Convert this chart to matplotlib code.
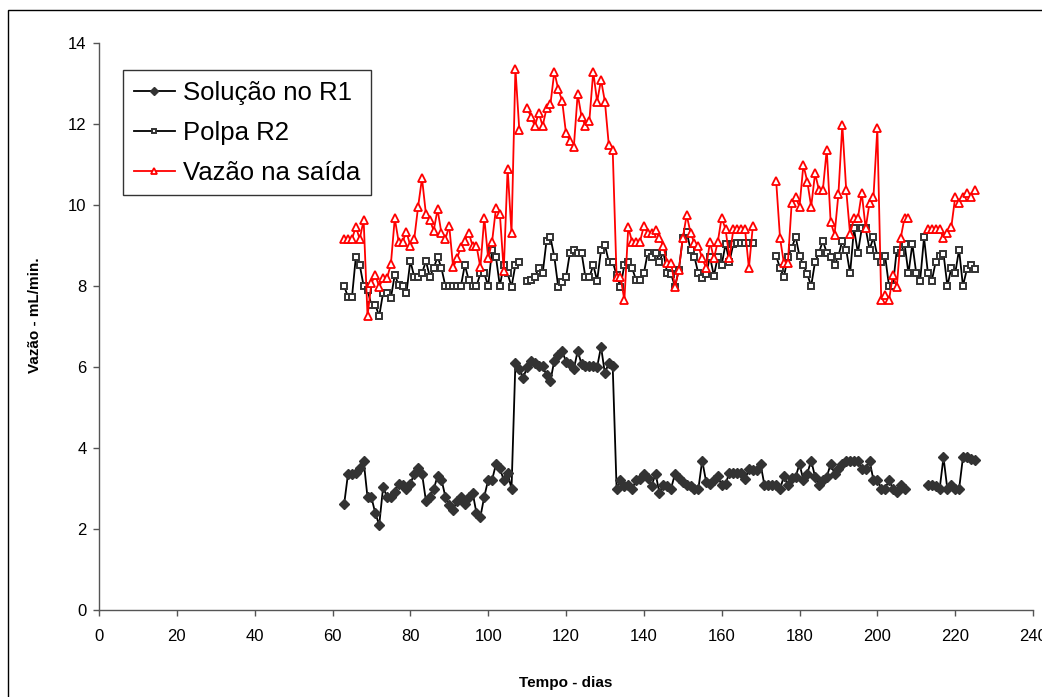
import numpy as np
import matplotlib
matplotlib.use("Agg")
import matplotlib.pyplot as plt
from matplotlib.patches import Rectangle

nan = np.nan

# dias 63..225 (um valor por dia, nan = sem medida)
dia_inicio = 63
dia_fim = 225

solucao_r1 = [
    2.62, 3.37, 3.37, 3.38, 3.50, 3.69, 2.78, 2.78, 2.39, 2.10,
    3.03, 2.80, 2.78, 2.92, 3.11, 3.09, 3.00, 3.11, 3.37, 3.50,
    3.37, 2.70, 2.80, 2.98, 3.31, 3.22, 2.80, 2.59, 2.47, 2.70,
    2.80, 2.62, 2.78, 2.90, 2.39, 2.30, 2.80, 3.21, 3.21, 3.60,
    3.50, 3.21, 3.38, 2.99, 6.11, 5.94, 5.72, 6.01, 6.16, 6.09,
    6.02, 6.02, 5.80, 5.66, 6.16, 6.30, 6.40, 6.13, 6.07, 5.94,
    6.40, 6.07, 6.02, 6.02, 6.02, 6.00, 6.50, 5.84, 6.11, 6.02,
    3.00, 3.21, 3.05, 3.08, 2.98, 3.21, 3.23, 3.37, 3.25, 3.06,
    3.37, 2.90, 3.08, 3.05, 3.00, 3.36, 3.25, 3.17, 3.08, 3.05,
    2.98, 2.98, 3.69, 3.17, 3.11, 3.21, 3.31, 3.08, 3.12, 3.39,
    3.39, 3.39, 3.39, 3.23, 3.47, 3.46, 3.46, 3.60, 3.08, 3.08,
    3.08, 3.08, 2.98, 3.31, 3.08, 3.27, 3.29, 3.60, 3.21, 3.37,
    3.69, 3.29, 3.08, 3.21, 3.29, 3.60, 3.37, 3.47, 3.60, 3.69,
    3.69, 3.69, 3.69, 3.47, 3.47, 3.69, 3.21, 3.21, 3.00, 3.00,
    3.20, 3.00, 2.92, 3.08, 3.00, nan, nan, nan, nan, nan,
    3.08, 3.08, 3.05, 2.98, 3.77, 2.98, 3.08, 2.98, 2.98, 3.77,
    3.77, 3.74, 3.70,
]

polpa_r2 = [
    8.00, 7.72, 7.72, 8.72, 8.52, 8.00, 7.90, 7.53, 7.53, 7.26,
    7.83, 7.83, 7.70, 8.28, 8.02, 8.00, 7.83, 8.62, 8.23, 8.23,
    8.31, 8.62, 8.23, 8.44, 8.72, 8.44, 8.00, 8.00, 8.00, 8.00,
    8.00, 8.52, 8.15, 8.00, 8.00, 8.31, 8.31, 8.00, 8.89, 8.72,
    8.00, 8.52, 8.31, 7.98, 8.52, 8.60, nan, 8.13, 8.15, 8.23,
    8.44, 8.31, 9.12, 9.20, 8.72, 7.98, 8.10, 8.21, 8.82, 8.90,
    8.82, 8.82, 8.21, 8.21, 8.52, 8.13, 8.89, 9.01, 8.60, 8.60,
    8.27, 7.98, 8.52, 8.60, 8.44, 8.15, 8.15, 8.31, 8.82, 8.72,
    8.82, 8.60, 8.85, 8.31, 8.30, 7.98, 8.40, 9.18, 9.34, 8.90,
    8.72, 8.31, 8.19, 8.30, 8.72, 8.25, 8.72, 8.52, 9.04, 8.60,
    9.04, 9.05, 9.05, 9.05, 9.05, 9.05, nan, nan, nan, nan,
    nan, 8.74, 8.44, 8.23, 8.72, 8.93, 9.22, 8.74, 8.52, 8.29,
    8.00, 8.60, 8.82, 9.12, 8.82, 8.72, 8.52, 8.74, 9.12, 8.90,
    8.31, 9.42, 8.82, 9.42, 9.42, 8.90, 9.20, 8.74, 8.60, 8.74,
    8.00, 8.00, 8.90, 8.82, 9.04, 8.31, 9.04, 8.31, 8.13, 9.20,
    8.31, 8.13, 8.60, 8.74, 8.80, 8.00, 8.44, 8.31, 8.90, 8.00,
    8.41, 8.52, 8.41,
]

vazao_saida = [
    9.16, 9.16, 9.16, 9.46, 9.16, 9.63, 7.26, 8.07, 8.27, 7.98,
    8.19, 8.19, 8.54, 9.67, 9.09, 9.09, 9.34, 8.99, 9.16, 9.96,
    10.66, 9.78, 9.63, 9.37, 9.89, 9.30, 9.16, 9.48, 8.46, 8.68,
    8.97, 9.12, 9.32, 8.99, 8.99, 8.46, 9.69, 8.68, 9.09, 9.92,
    9.79, 8.38, 10.90, 9.30, 13.37, 11.85, nan, 12.39, 12.18, 11.95,
    12.28, 11.95, 12.39, 12.49, 13.29, 12.86, 12.58, 11.77, 11.59, 11.42,
    12.74, 12.18, 11.95, 12.08, 13.29, 12.55, 13.09, 12.55, 11.48, 11.36,
    8.23, 8.23, 7.65, 9.45, 9.09, 9.09, 9.09, 9.48, 9.30, 9.30,
    9.38, 9.18, 8.99, 8.58, 8.58, 7.98, 8.40, 9.18, 9.75, 9.32,
    9.05, 8.99, 8.68, 8.45, 9.09, 8.68, 9.09, 9.69, 9.40, 8.68,
    9.40, 9.40, 9.40, 9.40, 8.44, 9.47, nan, nan, nan, nan,
    nan, 10.60, 9.18, 8.56, 8.56, 10.06, 10.19, 9.96, 10.99, 10.58,
    9.96, 10.78, 10.37, 10.37, 11.37, 9.59, 9.26, 10.27, 11.98, 10.37,
    9.28, 9.67, 9.67, 10.30, 9.42, 10.06, 10.19, 11.89, 7.65, 7.79,
    7.65, 8.27, 7.98, 9.18, 9.69, 9.69, nan, nan, nan, nan,
    9.40, 9.40, 9.40, 9.40, 9.18, 9.30, 9.45, 10.19, 10.06, 10.19,
    10.30, 10.19, 10.37,
]

dias = np.arange(dia_inicio, dia_fim + 1)

plt.rcParams["font.family"] = ["Liberation Sans", "DejaVu Sans"]

W, H = 1042, 697
fig = plt.figure(figsize=(W / 100, H / 100), dpi=100)
ax = fig.add_axes([99 / W, 1 - 610 / H, (1033 - 99) / W, (610 - 43) / H])

ax.plot(dias, solucao_r1, color="black", lw=1.3, marker="D", ms=5.5,
        mfc="#333333", mec="#333333", label="Solução no R1")
ax.plot(dias, polpa_r2, color="black", lw=1.3, marker="s", ms=4.8,
        mfc="white", mec="#333333", mew=1.4, label="Polpa R2")
ax.plot(dias, vazao_saida, color="red", lw=1.3, marker="^", ms=6.3,
        mfc="white", mec="red", mew=1.3, label="Vazão na saída")

ax.set_xlim(0, 240)
ax.set_ylim(0, 14)
ax.set_xticks(range(0, 241, 20))
ax.set_yticks(range(0, 15, 2))
for s in ["top", "right"]:
    ax.spines[s].set_visible(False)
for s in ["left", "bottom"]:
    ax.spines[s].set_color("#555555")
    ax.spines[s].set_linewidth(1)
ax.tick_params(axis="both", direction="out", length=4, width=1, color="#555555",
               labelsize=12)
ax.tick_params(axis="x", pad=10)
ax.tick_params(axis="y", pad=5)

fig.text(35 / W, 1 - 315 / H, "Vazão - mL/min.", rotation=90, fontsize=11,
         fontweight="bold", ha="center", va="center")
fig.text(566 / W, 1 - 683 / H, "Tempo - dias", fontsize=11,
         fontweight="bold", ha="center", va="center")

leg = ax.legend(loc="upper left", bbox_to_anchor=(123 / W, 1 - 70 / H),
                bbox_transform=fig.transFigure, borderaxespad=0,
                fontsize=18.5, frameon=True, fancybox=False, edgecolor="black",
                handlelength=1.6, handletextpad=0.3, labelspacing=0.62,
                borderpad=0.42, markerscale=0.75)
leg.get_frame().set_linewidth(1)

# moldura da figura (cortada à direita e em baixo)
fig.patches.append(Rectangle((8 / W, -0.2), 1.2, (1 - 10 / H) + 0.2,
                             transform=fig.transFigure, fill=False,
                             lw=1, ec="black"))

fig.savefig("out.png", dpi=100)
